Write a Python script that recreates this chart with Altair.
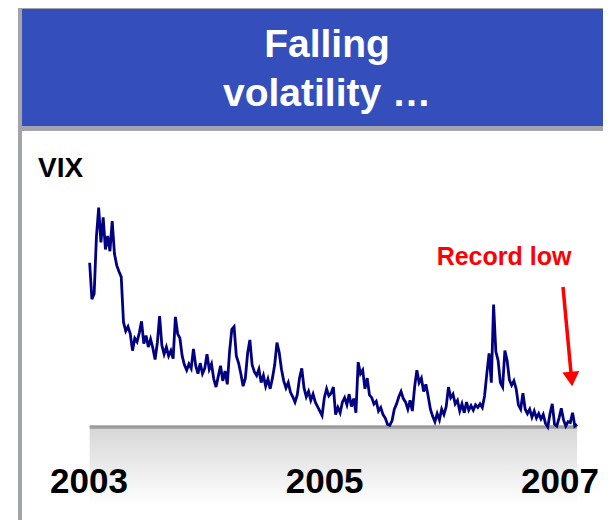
import altair as alt
import pandas as pd

# ---- data ----
title_lines = ["Falling", "volatility …"]
series_label = "VIX"
note_text = "Record low"
year_labels = ["2003", "2005", "2007"]
year_dates = ["2003-01-01", "2005-01-01", "2007-01-01"]
week_start = "2003-01-03"          # weekly observations (Fridays)
vix_weekly = [
    28.5, 24.4, 25.0, 31.4, 34.7, 30.8, 33.6, 30.0, 31.5, 29.8,
    33.2, 29.5, 28.2, 27.5, 26.9, 21.8, 20.8, 21.3, 20.5, 18.6,
    20.0, 19.6, 20.6, 21.9, 19.4, 20.3, 19.0, 19.9, 18.9, 17.6,
    19.5, 22.5, 19.2, 18.2, 19.0, 18.0, 18.6, 17.7, 22.4, 20.5,
    20.0, 18.0, 17.0, 16.4, 17.1, 16.6, 18.8, 16.9, 16.0, 17.2,
    16.0, 16.6, 18.2, 16.5, 17.1, 15.4, 14.5, 15.7, 16.9, 15.2,
    16.3, 14.8, 18.5, 21.0, 21.3, 18.0, 17.2, 16.0, 14.6, 15.5,
    18.3, 19.8, 17.0, 16.2, 15.8, 16.5, 15.0, 15.8, 14.6, 15.4,
    14.3, 15.5, 17.0, 19.5, 18.4, 16.5, 15.2, 14.4, 15.0, 13.9,
    13.4, 12.8, 13.6, 15.5, 16.6, 14.4, 13.4, 14.0, 13.0, 13.7,
    12.8, 12.3, 11.8, 11.3, 13.3, 14.3, 13.5, 13.8, 14.5, 11.4,
    12.2, 11.6, 12.8, 13.3, 12.5, 13.7, 12.3, 13.2, 11.6, 17.3,
    16.0, 16.4, 14.3, 15.5, 13.6, 13.3, 12.6, 12.9, 11.8, 12.2,
    11.4, 11.0, 10.3, 10.2, 10.7, 12.0, 12.6, 13.4, 14.0, 13.2,
    12.8, 12.0, 13.0, 11.8, 14.5, 16.4, 15.0, 15.5, 14.0, 14.8,
    13.5, 12.0, 11.2, 10.6, 11.5, 10.8, 12.0, 11.4, 12.3, 14.5,
    13.3, 13.7, 12.6, 13.0, 11.8, 12.6, 11.6, 12.8, 11.9, 12.4,
    11.9, 12.5, 12.2, 12.6, 12.2, 13.5, 16.0, 18.3, 15.0, 23.8,
    18.5, 17.5, 15.0, 14.5, 18.6, 17.5, 15.3, 14.7, 15.2, 14.3,
    12.5, 12.0, 13.8, 12.0, 11.5, 12.0, 11.1, 11.8, 11.0, 11.5,
    10.9, 11.4, 10.4, 10.0, 11.5, 12.6, 10.3, 10.1, 11.0, 12.1,
    10.8, 10.1, 10.6, 10.5, 11.6, 10.1, 10.3,
]
axis_floor = 10

dates = pd.date_range(week_start, periods=len(vix_weekly), freq="7D")
df = pd.DataFrame({"date": dates, "vix": vix_weekly})
years_df = pd.DataFrame({"date": pd.to_datetime(year_dates), "label": year_labels})
span_df = pd.DataFrame({"start": [dates[0]], "end": [dates[-1]], "base": [axis_floor]})
one = pd.DataFrame({"k": [0]})

W, H = 595, 512
FONT = "Liberation Sans"

xscale = alt.Scale(
    domain=[alt.DateTime(year=2003, month=1, date=1), alt.DateTime(year=2007, month=1, date=1)],
    range=[81, 552], nice=False)
yscale = alt.Scale(domain=[10, 35], range=[419, 197], zero=False, nice=False)

frame = alt.Chart(one).mark_rect(color="#A3A3AB").encode(
    x=alt.value(10), x2=alt.value(W), y=alt.value(0), y2=alt.value(123))
blue = alt.Chart(one).mark_rect(color="#344EBB").encode(
    x=alt.value(14), x2=alt.value(W), y=alt.value(1), y2=alt.value(118))
left_border = alt.Chart(one).mark_rect(color="#A3A3AB").encode(
    x=alt.value(10), x2=alt.value(14), y=alt.value(0), y2=alt.value(H))

title1 = alt.Chart(one).mark_text(text=title_lines[0], font=FONT, fontWeight="bold",
                                  fontSize=39, color="white", align="center",
                                  baseline="alphabetic").encode(
    x=alt.value(319), y=alt.value(49))
title2 = alt.Chart(one).mark_text(text=title_lines[1], font=FONT, fontWeight="bold",
                                  fontSize=39, color="white", align="center",
                                  baseline="alphabetic").encode(
    x=alt.value(319), y=alt.value(98))

vix_lbl = alt.Chart(one).mark_text(text=series_label, font=FONT, fontWeight="bold",
                                   fontSize=28, color="black", align="left",
                                   baseline="alphabetic").encode(
    x=alt.value(30), y=alt.value(169))

gradient = alt.Gradient(
    gradient="linear",
    stops=[alt.GradientStop(color="#D6D6D6", offset=0),
           alt.GradientStop(color="#FFFFFF", offset=1)],
    x1=0, x2=0, y1=0, y2=1)

band = alt.Chart(span_df).mark_rect(fill=gradient).encode(
    x=alt.X("start:T", scale=xscale, axis=None),
    x2="end:T",
    y=alt.Y("base:Q", scale=yscale, axis=None),
    y2=alt.value(497))

baseline = alt.Chart(span_df).mark_rule(color="#9C9C9C", strokeWidth=3.5).encode(
    x=alt.X("start:T", scale=xscale, axis=None),
    x2="end:T",
    y=alt.Y("base:Q", scale=yscale, axis=None))

line = alt.Chart(df).mark_line(color="#000080", strokeWidth=2.8).encode(
    x=alt.X("date:T", scale=xscale, axis=None),
    y=alt.Y("vix:Q", scale=yscale, axis=None))

years = alt.Chart(years_df).mark_text(font=FONT, fontWeight="bold", fontSize=35,
                                      color="black", align="center",
                                      baseline="alphabetic").encode(
    x=alt.X("date:T", scale=xscale, axis=None),
    y=alt.value(485),
    text="label:N")

note = alt.Chart(one).mark_text(text=note_text, font=FONT, fontWeight="bold",
                                fontSize=25, color="#FF0000", align="center",
                                baseline="alphabetic").encode(
    x=alt.value(496), y=alt.value(257))

arrow_shaft = alt.Chart(one).mark_rule(color="#FF0000", strokeWidth=3.5).encode(
    x=alt.value(555), y=alt.value(279), x2=alt.value(563), y2=alt.value(365))
arrow_head = alt.Chart(one).mark_point(shape="triangle-down", filled=True,
                                       color="#FF0000", opacity=1, size=290,
                                       angle=355).encode(
    x=alt.value(563.5), y=alt.value(371))

chart = alt.layer(
    frame, blue, left_border, title1, title2, vix_lbl,
    band, baseline, line, years, note, arrow_shaft, arrow_head
).properties(
    width=W, height=H, padding=0,
    autosize=alt.AutoSizeParams(type="none"),
    background="white"
).configure_view(stroke=None)

chart.save("out.html", embed_options={"renderer": "svg", "actions": False})
